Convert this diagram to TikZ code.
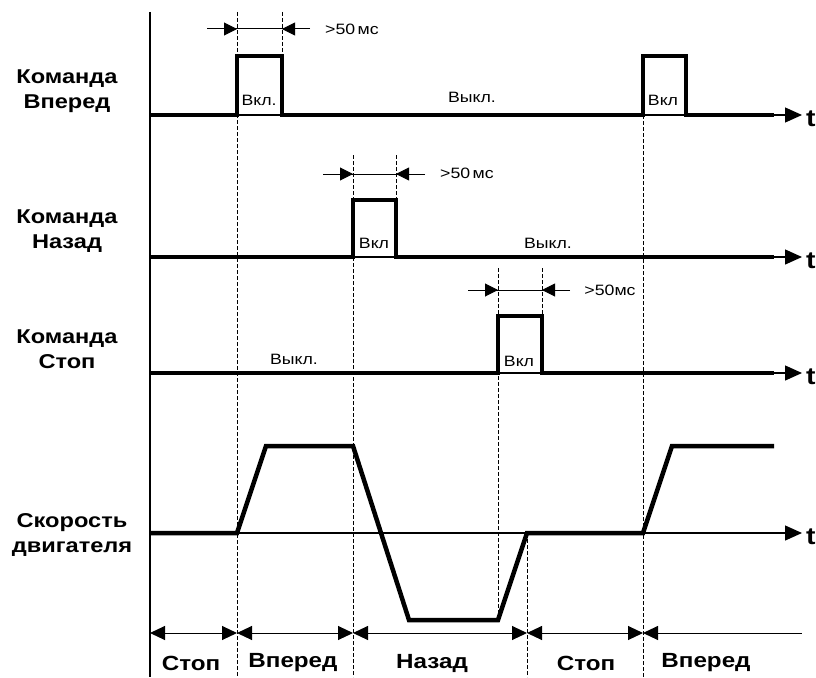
\documentclass[tikz,border=0pt]{standalone}
\usepackage{fontspec}
\setmainfont{Liberation Sans}[FakeStretch=1.18]
\usetikzlibrary{arrows.meta,positioning}
\tikzset{
  >={Triangle[length=15pt,width=14pt]},
  axis/.style={line width=1.3pt,-{Triangle[length=17pt,width=15pt]}},
  sig/.style={line width=4.5pt,line join=miter},
  guide/.style={line width=0.8pt,dash pattern=on 4pt off 2pt},
  dim/.style={line width=1pt},
  dimtip/.style={line width=1pt,-{Triangle[length=13pt,width=13pt]}},
  chan/.style={font=\fontsize{20}{25}\selectfont\bfseries,align=center},
  state/.style={font=\fontsize{20.5}{24}\selectfont\bfseries},
  note/.style={font=\fontsize{15}{17}\selectfont,inner sep=0pt},
  tlabel/.style={font=\fontsize{24}{26}\selectfont\bfseries,anchor=west,inner sep=0pt},
}
\begin{document}
\begin{tikzpicture}[x=1pt,y=-1pt]
  \useasboundingbox (0,0) rectangle (816,677);
  % time axes
  \foreach \ty [count=\i] in {115,257,373,533}{
    \draw[axis] (150,\ty) -- (802,\ty);
    \node[tlabel] (t\i) at (806,\ty+4) {t};
  }
  \draw[line width=1.3pt] (150,12) -- (150,677);
  % guide lines
  \draw[guide] (237,12) -- (237,677);
  \draw[guide] (282,12) -- (282,115);
  \draw[guide] (353,155) -- (353,677);
  \draw[guide] (396,155) -- (396,257);
  \draw[guide] (498,268) -- (498,620);
  \draw[guide] (542,268) -- (542,373);
  \draw[guide] (643,115) -- (643,677);
  \draw[guide] (527,533) -- (527,677);
  % commands
  \draw[sig] (150,115) -- (237,115) -- (237,56) -- (282,56) -- (282,115)
    -- (643,115) -- (643,56) -- (686,56) -- (686,115) -- (774,115);
  \draw[sig] (150,257) -- (353,257) -- (353,200) -- (396,200) -- (396,257) -- (774,257);
  \draw[sig] (150,373) -- (498,373) -- (498,316) -- (542,316) -- (542,373) -- (774,373);
  % motor speed
  \draw[sig] (150,533) -- (237,533) -- (266,446) -- (353,446) -- (409,620)
    -- (498,620) -- (527,533) -- (643,533) -- (672,446) -- (774,446);
  % pulse widths
  \draw[dim] (207,29) -- (310,29);
  \draw[dimtip] (207,29) -- (237,29);
  \draw[dimtip] (310,29) -- (282,29);
  \draw[dim] (323,174) -- (425,174);
  \draw[dimtip] (323,174) -- (353,174);
  \draw[dimtip] (425,174) -- (396,174);
  \draw[dim] (468,290) -- (570,290);
  \draw[dimtip] (468,290) -- (498,290);
  \draw[dimtip] (570,290) -- (542,290);
  \node[note] (w1) at (352,29) {>50\,мс};
  \node[note] (w2) at (467,173) {>50\,мс};
  \node[note] (w3) at (610,290) {>50мс};
  % on / off
  \node[note] (on1) at (259,100) {Вкл.};
  \node[note] (off1) at (472,97) {Выкл.};
  \node[note] (on2) at (663,100) {Вкл};
  \node[note] (on3) at (374,243) {Вкл};
  \node[note] (off2) at (548,243) {Выкл.};
  \node[note] (on4) at (519,361) {Вкл};
  \node[note] (off3) at (294,359) {Выкл.};
  % channel names
  \node[chan] (fwd) at (67,91) {Команда\\Вперед};
  \node[chan] (rev) at (67,231) {Команда\\Назад};
  \node[chan] (stp) at (67,349) {Команда\\Стоп};
  \node[chan] (spd) at (72,535) {Скорость\\двигателя};
  % states
  \draw[dim,<->] (150,633) -- (237,633);
  \draw[dim,<->] (237,633) -- (353,633);
  \draw[dim,<->] (353,633) -- (527,633);
  \draw[dim,<->] (527,633) -- (643,633);
  \draw[dim,<-] (643,633) -- (802,633);
  \node[state] (s1) at (191,663) {Стоп};
  \node[state] (s2) at (293,663) {Вперед};
  \node[state] (s3) at (432,663) {Назад};
  \node[state] (s4) at (586,663) {Стоп};
  \node[state] (s5) at (706,663) {Вперед};
\end{tikzpicture}
\end{document}
